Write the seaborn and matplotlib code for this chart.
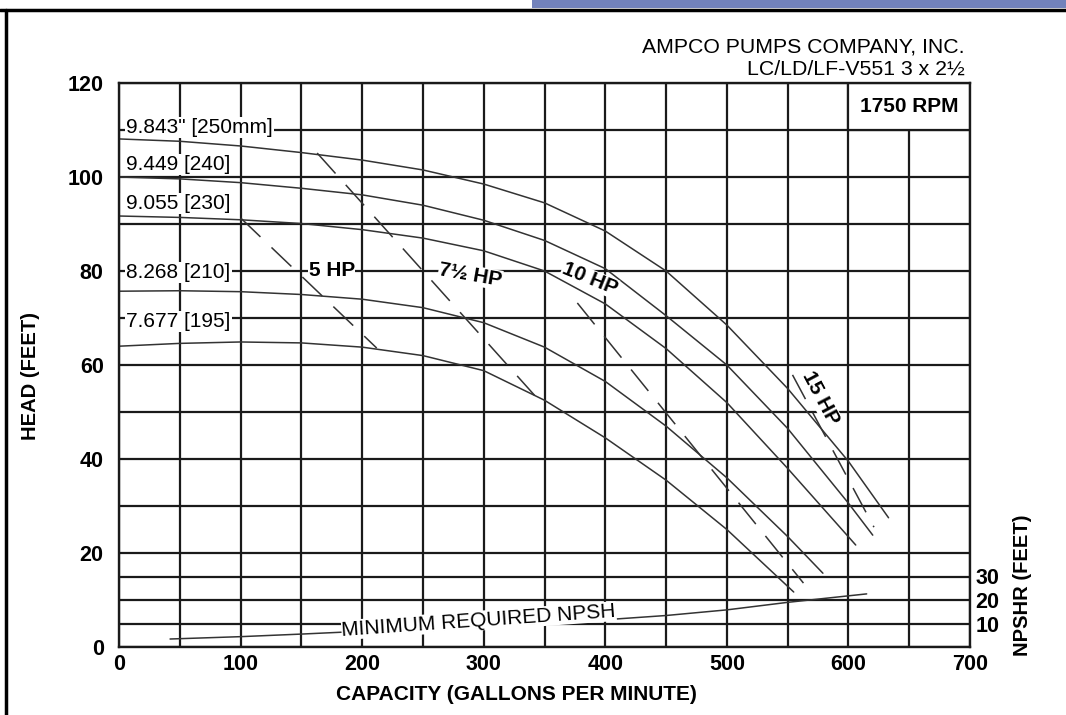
import matplotlib
matplotlib.use("Agg")
import matplotlib.pyplot as plt
import seaborn as sns
from matplotlib.lines import Line2D
from matplotlib.patches import Rectangle
from matplotlib.ticker import FixedLocator, MultipleLocator

# impeller curves, capacity (gpm) -> head (ft)
gpm_250 = [0, 50, 100, 150, 200, 250, 300, 350, 400, 450, 500, 550, 600, 633]
head_250 = [108.1, 107.6, 106.6, 105.2, 103.6, 101.5, 98.5, 94.5, 88.5, 80.0, 68.5, 55.0, 39.5, 27.5]

gpm_240 = [0, 50, 100, 150, 200, 250, 300, 350, 400, 450, 500, 550, 600, 620]
head_240 = [100.0, 99.6, 98.8, 97.6, 96.2, 94.0, 90.8, 86.5, 80.5, 70.5, 60.0, 46.5, 30.6, 23.8]

gpm_230 = [0, 50, 100, 150, 200, 250, 300, 350, 400, 450, 500, 550, 606]
head_230 = [91.7, 91.4, 90.9, 90.1, 88.8, 87.0, 84.3, 80.0, 73.0, 63.5, 52.0, 38.0, 21.7]

gpm_210 = [0, 50, 100, 150, 200, 250, 300, 350, 400, 450, 500, 550, 579]
head_210 = [75.7, 75.8, 75.6, 75.0, 74.0, 72.2, 69.0, 63.8, 56.5, 47.0, 36.0, 23.5, 15.7]

gpm_195 = [0, 50, 100, 150, 200, 250, 300, 350, 400, 450, 500, 555]
head_195 = [64.0, 64.6, 64.9, 64.7, 63.8, 62.0, 58.8, 52.5, 44.5, 35.5, 25.0, 11.7]

impeller_labels = ['9.843" [250mm]', "9.449 [240]", "9.055 [230]", "8.268 [210]", "7.677 [195]"]
impeller_gpm = [gpm_250, gpm_240, gpm_230, gpm_210, gpm_195]
impeller_head = [head_250, head_240, head_230, head_210, head_195]

# horsepower lines (start / end points)
hp_labels = ["5 HP", "7½ HP", "10 HP", "15 HP"]
hp_gpm = [[100, 212], [163, 342], [377, 563], [554, 621]]
hp_head = [[91.3, 63.6], [105.1, 53.5], [73.2, 13.6], [57.9, 25.5]]

# minimum required NPSH (ft, right axis)
npsh_gpm = [42, 100, 150, 200, 250, 300, 350, 400, 450, 500, 550, 615]
npsh_ft = [3.4, 4.4, 5.5, 6.7, 7.8, 9.0, 10.2, 11.6, 13.4, 15.8, 19.0, 22.6]

x_ticks = [0, 100, 200, 300, 400, 500, 600, 700]
y_ticks = [0, 20, 40, 60, 80, 100, 120]
npsh_ticks = [10, 20, 30]

sns.set_style("white")
plt.rcParams["font.family"] = ["Liberation Sans", "DejaVu Sans"]
plt.rcParams["text.color"] = "black"
plt.rcParams["axes.labelcolor"] = "black"
plt.rcParams["xtick.color"] = "black"
plt.rcParams["ytick.color"] = "black"

GRID = "#1a1a1a"
CURVE = "#333333"

fig = plt.figure(figsize=(10.66, 7.15), dpi=100)
ax = fig.add_axes([119 / 1066, 68 / 715, 851 / 1066, 564 / 715])

ax.set_xlim(0, 700)
ax.set_ylim(0, 120)
ax.set_xticks(x_ticks)
ax.set_yticks(y_ticks)
ax.xaxis.set_minor_locator(MultipleLocator(50))
ax.yaxis.set_minor_locator(FixedLocator([5, 10, 15, 30, 50, 70, 90, 110]))
ax.set_axisbelow(True)
ax.grid(which="both", color=GRID, lw=1.6)
ax.tick_params(which="both", length=0)
ax.tick_params(axis="y", pad=11, labelsize=15.5)
ax.tick_params(axis="x", pad=5, labelsize=15.5)
for lab in ax.get_xticklabels() + ax.get_yticklabels():
    lab.set_fontweight("bold")
for sp in ax.spines.values():
    sp.set_color(GRID)
    sp.set_linewidth(1.7)

# impeller curves + labels
label_y = [110.6, 102.6, 94.3, 79.6, 69.2]
for g, h, lab, ly in zip(impeller_gpm, impeller_head, impeller_labels, label_y):
    sns.lineplot(x=g, y=h, ax=ax, color=CURVE, lw=1.1, sort=False, estimator=None)
    ax.text(6, ly, lab, fontsize=15, ha="left", va="center",
            bbox=dict(facecolor="white", edgecolor="none", pad=0.8))

# horsepower lines
for g, h in zip(hp_gpm, hp_head):
    sns.lineplot(x=g, y=h, ax=ax, color=CURVE, lw=1.1, linestyle=(0, (18, 10)),
                 sort=False, estimator=None)

hp_pos = [(175, 80.2, 0), (289, 79.1, -10), (387, 78.3, -22), (577, 53, -62)]
for lab, (px, py, rot) in zip(hp_labels, hp_pos):
    ax.text(px, py, lab, fontsize=15, fontweight="bold", ha="center", va="center", rotation=rot,
            bbox=dict(facecolor="white", edgecolor="none", pad=0.3))

# speed box
ax.add_patch(Rectangle((600, 110), 100, 10, facecolor="white", edgecolor=GRID, lw=1.6, zorder=1.5))
ax.text(650, 115, "1750 RPM", ha="center", va="center", fontsize=15, fontweight="bold")

ax.set_xlabel("CAPACITY (GALLONS PER MINUTE)", fontsize=15, fontweight="bold", labelpad=8)
ax.xaxis.set_label_coords(0.467, -0.068)
ax.set_ylabel("HEAD (FEET)", fontsize=14.5, fontweight="bold")
ax.yaxis.set_label_coords(-0.093, 0.48)

# NPSH on a twin axis
ax2 = ax.twinx()
ax2.set_ylim(0, 240)
sns.lineplot(x=npsh_gpm, y=npsh_ft, ax=ax2, color=CURVE, lw=1.1, sort=False, estimator=None)
ax2.set_xlim(0, 700)
ax2.set_yticks(npsh_ticks)
ax2.tick_params(length=0, pad=4, labelsize=15.5)
for lab in ax2.get_yticklabels():
    lab.set_fontweight("bold")
ax2.grid(False)
for sp in ax2.spines.values():
    sp.set_visible(False)
ax2.set_ylabel("")
ax2.text(296, 11.2, "MINIMUM REQUIRED NPSH", fontsize=15, ha="center", va="center", rotation=4,
         bbox=dict(facecolor="white", edgecolor="none", pad=0.3))
ax2.text(1.062, 0.11, "NPSHR (FEET)", transform=ax2.transAxes, rotation=90, fontsize=14.5,
         fontweight="bold", ha="center", va="center")

# header
fig.text(965 / 1066, 1 - 47 / 715, "AMPCO PUMPS COMPANY, INC.", ha="right", va="center", fontsize=15.3)
fig.text(965 / 1066, 1 - 69 / 715, "LC/LD/LF-V551 3 x 2½", ha="right", va="center", fontsize=15.3)

# page frame
fig.add_artist(Rectangle((532 / 1066, 1 - 8 / 715), 534 / 1066, 8 / 715, transform=fig.transFigure,
                         facecolor="#7282bb", edgecolor="none"))
fig.add_artist(Line2D([0, 1], [1 - 10 / 715] * 2, transform=fig.transFigure, color="black", lw=2.5))
fig.add_artist(Line2D([6 / 1066] * 2, [0, 1 - 10 / 715], transform=fig.transFigure, color="black", lw=2.5))

fig.savefig("out.png", dpi=100, facecolor="white")
